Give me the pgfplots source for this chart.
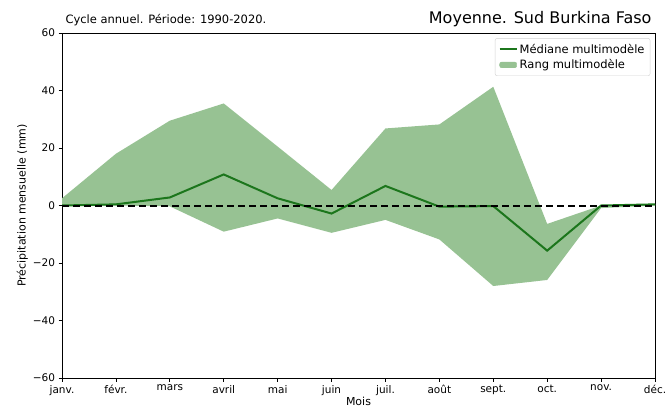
\documentclass[border=0pt]{standalone}
\usepackage{fontspec}
\setmainfont{DejaVu Sans}
\usepackage{pgfplots}
\pgfplotsset{compat=1.18}
\usepgfplotslibrary{fillbetween}
\definecolor{rangefill}{RGB}{151,194,147}
\definecolor{medline}{RGB}{28,118,28}
\begin{document}
\begin{tikzpicture}
\begin{axis}[
  name=ax,
  scale only axis,
  width=593pt, height=345pt,
  xmin=0, xmax=11, ymin=-60, ymax=60,
  xtick={0,...,11},
  xticklabels={janv.,févr.,mars,avril,mai,juin,juil.,août,sept.,oct.,nov.,déc.},
  ytick={-60,-40,-20,0,20,40,60},
  yticklabels={−60,−40,−20,0,20,40,60},
  tick align=outside, major tick length=3.5pt,
  xtick pos=bottom, ytick pos=left,
  tick style={black, line width=0.7pt},
  axis line style={line width=0.9pt},
  ticklabel style={font=\fontsize{10.5}{12}\selectfont},
  /pgf/number format/assume math mode=true,
  xlabel={Mois}, ylabel={Précipitation mensuelle (mm)},
  label style={font=\fontsize{11}{13}\selectfont},
  xlabel style={yshift=5pt},
  ylabel style={yshift=-2pt},
  legend style={at={(0.992,0.985)}, anchor=north east, draw=gray!35, rounded corners=2pt,
    font=\fontsize{11.5}{13.5}\selectfont, row sep=1pt, inner sep=3.5pt},
  legend cell align=left,
]
\addlegendimage{medline, line width=2pt}
\addlegendentry{Médiane multimodèle}
\addlegendimage{area legend, fill=rangefill, draw=rangefill}
\addlegendentry{Rang multimodèle}
\addplot[name path=up, draw=none, forget plot] coordinates {
(0,2.5) (1,18) (2,29.5) (3,35.5) (4,20.5) (5,5.4) (6,26.8) (7,28.2) (8,41.3) (9,-6.4) (10,0) (11,0.5)};
\addplot[name path=lo, draw=none, forget plot] coordinates {
(0,0) (1,0) (2,-0.3) (3,-9.1) (4,-4.5) (5,-9.5) (6,-5) (7,-11.8) (8,-28) (9,-25.9) (10,-0.9) (11,0)};
\addplot[fill=rangefill, draw=none, forget plot] fill between[of=up and lo];
\addplot[medline, line width=2pt, forget plot] coordinates {
(0,0) (1,0.4) (2,2.8) (3,10.8) (4,2.5) (5,-2.8) (6,6.8) (7,-0.4) (8,-0.2) (9,-15.7) (10,0) (11,0.4)};
\addplot[black, line width=2pt, dash pattern=on 7pt off 4pt, forget plot] coordinates {(0,0) (11,0)};
\end{axis}
\node[anchor=base west, font=\fontsize{11.5}{13}\selectfont] at ([yshift=9pt]ax.north west) {Cycle annuel. Période: 1990-2020.};
\node[anchor=base east, font=\fontsize{16}{19}\selectfont] at ([yshift=9pt]ax.north east) {Moyenne. Sud Burkina Faso};
\pgfresetboundingbox
\useasboundingbox ([shift={(-62pt,-34pt)}]ax.south west) rectangle ([shift={(13pt,33pt)}]ax.north east);
\end{tikzpicture}
\end{document}
